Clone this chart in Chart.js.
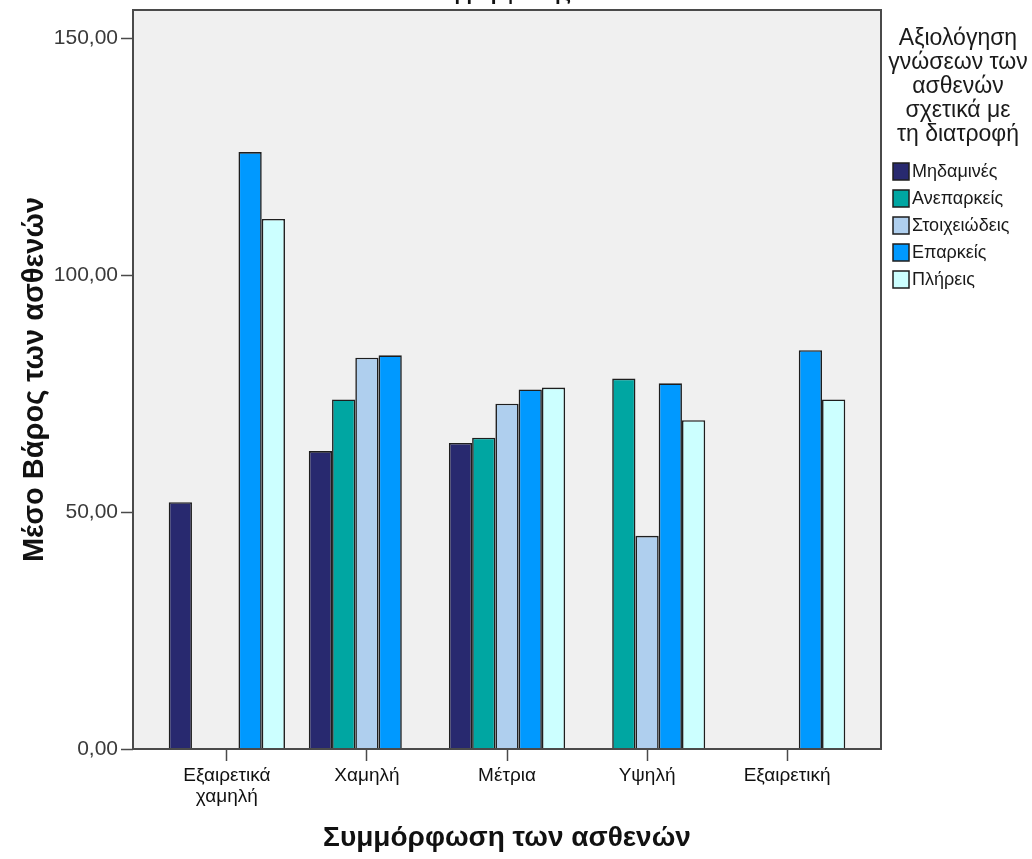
<!DOCTYPE html>
<html>
<head>
<meta charset="utf-8">
<script src="https://cdn.jsdelivr.net/npm/chart.js@4.4.1/dist/chart.umd.min.js"></script>
<style>
  html, body { margin: 0; padding: 0; background: #fff; }
  #wrap { width: 1032px; height: 859px; position: relative; }
</style>
</head>
<body>
<div id="wrap"><canvas id="chart"></canvas></div>
<script>
(function () {
  "use strict";

  // Category axis (compliance level) and the five knowledge-rating series.
  var categories = [["Εξαιρετικά", "χαμηλή"], "Χαμηλή", "Μέτρια", "Υψηλή", "Εξαιρετική"];
  var seriesLabels = ["Μηδαμινές", "Ανεπαρκείς", "Στοιχειώδεις", "Επαρκείς", "Πλήρεις"];
  var mhdamines    = [52.1, 62.9, 64.6, null, null];
  var aneparkeis   = [null, 73.8, 65.7, 78.2, null];
  var stoixeiwdeis = [null, 82.6, 72.9, 45.0, null];
  var eparkeis     = [126.0, 83.1, 75.9, 77.2, 84.2];
  var plhreis      = [111.9, null, 76.3, 69.4, 73.8];
  var yTicks = [0, 50, 100, 150];

  var legendTitle = ["Αξιολόγηση", "γνώσεων των", "ασθενών", "σχετικά με", "τη διατροφή"];
  var xTitle = "Συμμόρφωση των ασθενών";
  var yTitle = "Μέσο Βάρος των ασθενών";
  var topTitle = "συμμόρφωσης";   // last line of the chart title, mostly cut off

  var COLORS = ["#28296F", "#00A6A2", "#AFCFEE", "#0099FF", "#CCFFFF"];
  var EDGE = "#1E1E1E";
  var FRAME = "#4a4a4a";
  var PLOT_BG = "#F0F0F0";
  var FONT = "'Liberation Sans', Arial, sans-serif";

  var allSeries = [mhdamines, aneparkeis, stoixeiwdeis, eparkeis, plhreis];

  function toPoints(values) {
    return values.map(function (v, i) { return { x: i, y: v }; });
  }

  // Grey plot background, dark frame, legend block and the clipped title.
  var spssPlugin = {
    id: "spssFrame",
    beforeDraw: function (chart) {
      var a = chart.chartArea, ctx = chart.ctx;
      ctx.save();
      ctx.fillStyle = PLOT_BG;
      ctx.fillRect(a.left, a.top, a.right - a.left, a.bottom - a.top);
      ctx.restore();
    },
    afterDatasetsDraw: function (chart) {
      var a = chart.chartArea, ctx = chart.ctx;
      ctx.save();
      ctx.strokeStyle = FRAME;
      ctx.lineWidth = 2;
      ctx.strokeRect(a.left, a.top, a.right - a.left, a.bottom - a.top);
      ctx.restore();
    },
    afterDraw: function (chart) {
      var ctx = chart.ctx;
      ctx.save();
      // clipped title above the frame
      ctx.fillStyle = "#111";
      ctx.font = "bold 20px " + FONT;
      ctx.textAlign = "center";
      ctx.textBaseline = "alphabetic";
      ctx.fillText(topTitle, 500, 0);

      // legend title
      ctx.fillStyle = "#1a1a1a";
      ctx.font = "23px " + FONT;
      ctx.textBaseline = "middle";
      legendTitle.forEach(function (line, i) {
        ctx.fillText(line, 958, 39 + i * 24);
      });

      // legend items
      ctx.textAlign = "left";
      ctx.font = "18px " + FONT;
      chart.data.datasets.forEach(function (ds, i) {
        var cy = 171 + i * 27;
        ctx.fillStyle = ds.backgroundColor;
        ctx.fillRect(893, cy - 8, 16, 17);
        ctx.strokeStyle = EDGE;
        ctx.lineWidth = 1.5;
        ctx.strokeRect(893, cy - 8, 16, 17);
        ctx.fillStyle = "#1a1a1a";
        ctx.fillText(ds.label, 912, cy + 1);
      });
      ctx.restore();
    }
  };

  var datasets = allSeries.map(function (values, i) {
    return {
      label: seriesLabels[i],
      data: toPoints(values),
      backgroundColor: COLORS[i],
      borderColor: EDGE,
      borderWidth: 1.6,
      categoryPercentage: 0.83,
      barPercentage: 1
    };
  });

  new Chart(document.getElementById("chart").getContext("2d"), {
    type: "bar",
    data: { datasets: datasets },
    options: {
      responsive: true,
      maintainAspectRatio: false,
      animation: false,
      layout: { padding: { top: 10, right: 151, bottom: 0, left: 0 } },
      plugins: { legend: { display: false }, tooltip: { enabled: false } },
      scales: {
        x: {
          type: "linear",
          min: -0.67,
          max: 4.67,
          offset: false,
          afterBuildTicks: function (s) {
            s.ticks = categories.map(function (c, i) { return { value: i }; });
          },
          afterFit: function (s) {
            s.height = 110;
            s.paddingLeft = 0; s.paddingRight = 0;
          },
          grid: { display: true, offset: false, drawOnChartArea: false, drawTicks: true,
                  tickLength: 12, tickColor: FRAME, tickWidth: 1.5 },
          border: { display: false },
          ticks: {
            color: "#111", padding: 4, maxRotation: 0, autoSkip: false,
            font: { family: FONT, size: 19, lineHeight: 1.1 },
            callback: function (v) { return categories[v]; }
          },
          title: { display: true, text: xTitle, color: "#111",
                   font: { family: FONT, size: 28, weight: "bold" },
                   padding: { top: 0, bottom: 4 } }
        },
        y: {
          min: 0,
          max: 156,
          afterBuildTicks: function (s) {
            s.ticks = yTicks.map(function (v) { return { value: v }; });
          },
          afterFit: function (s) {
            s.width = 133;
            s.paddingTop = 0; s.paddingBottom = 0;
          },
          grid: { drawOnChartArea: false, tickLength: 12, tickColor: FRAME, tickWidth: 1.5 },
          border: { display: false },
          ticks: {
            color: "#3a3a3a", padding: 3,
            font: { family: FONT, size: 21 },
            callback: function (v) { return Number(v).toFixed(2).replace(".", ","); }
          },
          title: { display: true, text: yTitle, color: "#111",
                   font: { family: FONT, size: 29, weight: "bold" },
                   padding: { top: 18, bottom: 0 } }
        }
      }
    },
    plugins: [spssPlugin]
  });
})();
</script>
</body>
</html>
